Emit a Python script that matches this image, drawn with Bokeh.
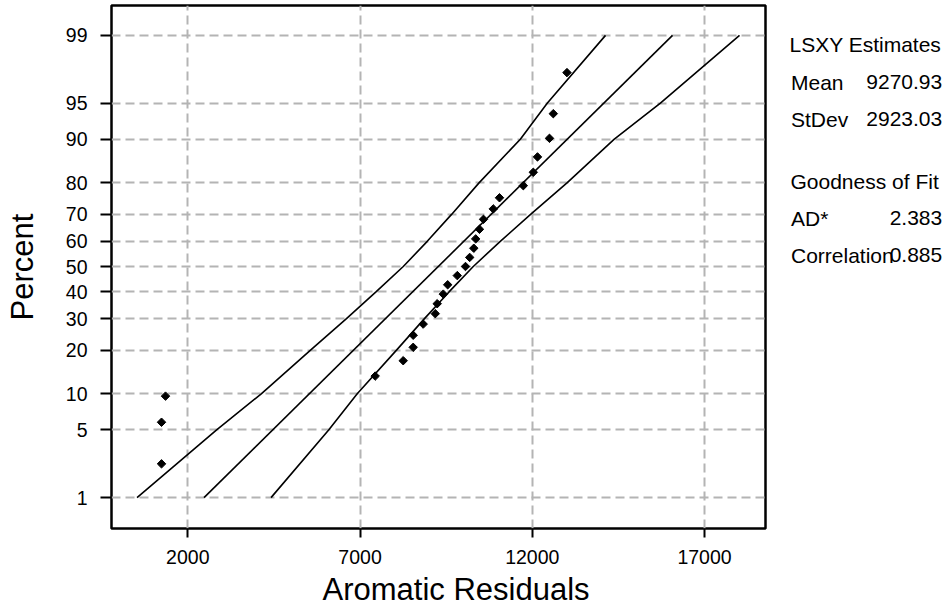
from statistics import NormalDist
from bokeh.plotting import figure
from bokeh.layouts import row
from bokeh.models import Range1d, FixedTicker, Title
from bokeh.core.properties import value
from bokeh.embed import file_html
from bokeh.resources import INLINE

# ---------------- data ----------------
MEAN = 9270.93
STDEV = 2923.03
AD_STAR = "2.383"
CORRELATION = "0.885"

X_VALUES = [1237, 1237, 1353, 7440, 8253, 8543, 8543, 8833, 9184, 9240,
            9417, 9544, 9823, 10061, 10183, 10302, 10357, 10467, 10583, 10868,
            11048, 11739, 12029, 12151, 12499, 12610, 13007]
PERCENTS = [2.35, 5.85, 9.6, 13.5, 17.15, 20.8, 24.45, 28.1, 31.75, 35.4,
            39.05, 42.7, 46.35, 50.0, 53.65, 57.3, 60.95, 64.6, 68.25, 71.9,
            75.55, 79.2, 82.85, 86.5, 90.15, 93.8, 97.45]

BAND_PCT = [1, 5, 10, 20, 30, 40, 50, 60, 70, 80, 90, 95, 99]
BAND_LOW = [526, 2837, 4132, 5563, 6606, 7470, 8255, 8951, 9657, 10454, 11653, 12439, 14126]
BAND_HIGH = [4416, 6089, 6918, 8059, 8870, 9590, 10287, 11071, 11951, 13008, 14381, 15719, 18016]
FIT_PCT = [1, 99]

Y_TICKS = [1, 5, 10, 20, 30, 40, 50, 60, 70, 80, 90, 95, 99]
X_TICKS = [2000, 7000, 12000, 17000]

STAT_LABELS = ["LSXY Estimates", "Mean", "StDev", "Goodness of Fit", "AD*", "Correlation"]
STAT_VALUES = ["", f"{MEAN:.2f}", f"{STDEV:.2f}", "", AD_STAR, CORRELATION]

ND = NormalDist()


def probit(pct):
    return round(ND.inv_cdf(pct / 100.0), 6)


FONT = "Liberation Sans"
FRAME_TOP, FRAME_BOTTOM = 5, 528

p = figure(width=775, height=611, output_backend="svg", toolbar_location=None,
           x_range=Range1d(-215, 18770), y_range=Range1d(-2.637, 2.627),
           min_border_left=111, min_border_right=10, min_border_top=FRAME_TOP,
           min_border_bottom=611 - FRAME_BOTTOM)
p.background_fill_color = "white"
p.border_fill_color = "white"
p.outline_line_color = "black"
p.outline_line_width = 2.5

# axes
y_tick_vals = [probit(v) for v in Y_TICKS]
p.yaxis.ticker = FixedTicker(ticks=y_tick_vals)
p.yaxis.major_label_overrides = {z: str(v) for z, v in zip(y_tick_vals, Y_TICKS)}
p.xaxis.ticker = FixedTicker(ticks=X_TICKS)

for ax in (p.xaxis[0], p.yaxis[0]):
    ax.axis_line_color = None
    ax.major_tick_line_color = "black"
    ax.major_tick_line_width = 2
    ax.major_tick_in = 0
    ax.minor_tick_line_color = None
    ax.major_label_text_font = FONT
    ax.major_label_text_font_size = "19.5px"
    ax.major_label_text_color = "black"
p.xaxis.major_tick_out = 9
p.xaxis.major_label_standoff = 12
p.yaxis.major_tick_out = 11
p.yaxis.major_label_standoff = 13

p.yaxis.axis_label = "Percent"
p.yaxis.axis_label_text_font = FONT
p.yaxis.axis_label_text_font_size = "31px"
p.yaxis.axis_label_text_font_style = "normal"
p.yaxis.axis_label_text_color = "black"
p.yaxis.axis_label_standoff = 23

p.add_layout(Title(text="Aromatic Residuals", align="left", offset=211,
                   text_font=FONT, text_font_size="31px", text_font_style="normal",
                   text_color="black", standoff=6), "below")

# grid
p.xgrid.ticker = FixedTicker(ticks=X_TICKS)
p.ygrid.ticker = FixedTicker(ticks=y_tick_vals)
for g in (p.xgrid[0], p.ygrid[0]):
    g.grid_line_color = "#b4b4b4"
    g.grid_line_width = 2
    g.grid_line_dash = "9 5"

# confidence bands and fitted line
band_z = [probit(v) for v in BAND_PCT]
p.line(BAND_LOW, band_z, line_color="black", line_width=1.6)
p.line(BAND_HIGH, band_z, line_color="black", line_width=1.6)
fit_z = [probit(v) for v in FIT_PCT]
fit_x = [MEAN + STDEV * z for z in fit_z]
p.line(fit_x, fit_z, line_color="black", line_width=1.6)

# data points
p.scatter(X_VALUES, [probit(v) for v in PERCENTS], marker="square", size=6,
          angle=0.785398, fill_color="black", line_color="black", line_width=1)

# ---------------- statistics panel ----------------
PANEL_W = 948 - 775
s = figure(width=PANEL_W, height=611, output_backend="svg", toolbar_location=None,
           x_range=Range1d(775, 948), y_range=Range1d(FRAME_BOTTOM, FRAME_TOP),
           x_axis_type=None, y_axis_type=None, min_border_left=0,
           min_border_right=0, min_border_top=FRAME_TOP,
           min_border_bottom=611 - FRAME_BOTTOM)
s.outline_line_color = None
s.background_fill_color = "white"
s.border_fill_color = "white"
s.grid.visible = False

ROW_Y = [43.5, 81.8, 118.5, 180.5, 217.8, 254.5]
LEFT_X = [789, 790.5, 790.5, 790, 790.5, 790.5]
s.text(x=LEFT_X, y=ROW_Y, text=STAT_LABELS, text_font=value(FONT),
       text_font_size="21px", text_color="black", text_align="left",
       text_baseline="alphabetic")
vy = [y for y, v in zip(ROW_Y, STAT_VALUES) if v]
vt = [v for v in STAT_VALUES if v]
s.text(x=[941.7] * len(vt), y=vy, text=vt, text_font=value(FONT),
       text_font_size="21px", text_color="black", text_align="right",
       text_baseline="alphabetic")

open("out.html", "w").write(file_html(row(p, s), INLINE))
